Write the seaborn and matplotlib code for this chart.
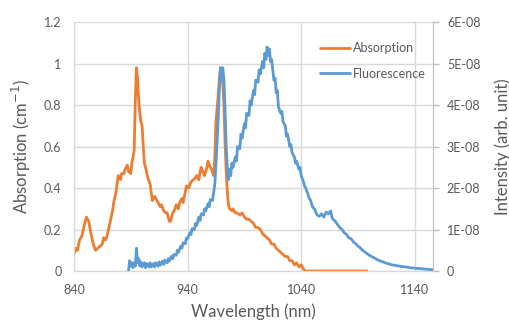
import matplotlib
matplotlib.use("Agg")
import numpy as np
import pandas as pd
import matplotlib.pyplot as plt
import seaborn as sns

sns.set_style("white")
plt.rcParams['font.family'] = ['Lato', 'DejaVu Sans']

# absorption spectrum (cm-1)
abs_wl = [840, 842, 843, 845, 847, 849, 851, 852, 853, 855, 857, 859, 861, 863, 865, 866, 868, 870,
          872, 874, 875, 877, 878, 879, 881, 882, 884, 885, 887, 888, 890, 891, 893, 894, 895, 896,
          897, 898, 899, 900, 901, 902, 903, 905, 907, 908, 909, 911, 912, 914, 916, 917, 919, 921,
          922, 924, 925, 927, 929, 930, 932, 933, 935, 936, 938, 939, 941, 943, 945, 947, 948, 950,
          951, 952, 954, 955, 957, 958, 960, 961, 963, 964, 965, 967, 968, 969, 970, 971, 972, 973,
          974, 975, 976, 977, 979, 980, 982, 984, 986, 988, 990, 992, 994, 996, 998, 1000, 1002,
          1004, 1006, 1008, 1010, 1012, 1014, 1016, 1018, 1020, 1022, 1024, 1026, 1028, 1030, 1032,
          1034, 1036, 1038, 1040, 1042, 1044, 1050, 1070, 1098]
abs_val = [0.08, 0.11, 0.10, 0.15, 0.17, 0.22, 0.26, 0.25, 0.24, 0.18, 0.13, 0.10, 0.11, 0.12, 0.13,
           0.16, 0.15, 0.19, 0.24, 0.29, 0.33, 0.38, 0.42, 0.46, 0.44, 0.47, 0.47, 0.49, 0.51, 0.48,
           0.47, 0.52, 0.58, 0.82, 0.98, 0.93, 0.82, 0.76, 0.72, 0.70, 0.60, 0.52, 0.50, 0.45, 0.42,
           0.38, 0.34, 0.36, 0.35, 0.33, 0.31, 0.32, 0.29, 0.28, 0.28, 0.24, 0.24, 0.28, 0.30, 0.32,
           0.30, 0.33, 0.35, 0.33, 0.38, 0.41, 0.40, 0.43, 0.44, 0.45, 0.46, 0.44, 0.48, 0.50, 0.47,
           0.46, 0.50, 0.53, 0.50, 0.49, 0.46, 0.55, 0.72, 0.85, 0.93, 0.98, 0.97, 0.90, 0.80, 0.62,
           0.48, 0.38, 0.32, 0.30, 0.29, 0.30, 0.28, 0.28, 0.27, 0.28, 0.26, 0.25, 0.25, 0.24, 0.23,
           0.21, 0.21, 0.20, 0.18, 0.17, 0.16, 0.15, 0.13, 0.13, 0.11, 0.10, 0.09, 0.08, 0.07, 0.07,
           0.05, 0.05, 0.03, 0.04, 0.02, 0.03, 0.01, 0.0, 0.0, 0.0, 0.0]

# fluorescence spectrum (units of 1E-08)
fl_wl = [888, 889, 890, 891, 892, 893, 894, 895, 896, 897, 898, 899, 900, 902, 903, 904, 906, 907,
         908, 910, 911, 912, 914, 915, 916, 918, 919, 920, 922, 923, 924, 926, 927, 928, 930, 931,
         932, 934, 935, 936, 938, 939, 940, 942, 943, 944, 946, 947, 948, 950, 951, 952, 954, 955,
         956, 958, 959, 960, 962, 963, 964, 965, 966, 967, 968, 969, 970, 971, 972, 973, 974, 975,
         976, 977, 978, 979, 980, 982, 983, 984, 986, 987, 988, 990, 991, 992, 994, 995, 996, 998,
         999, 1000, 1002, 1003, 1004, 1006, 1007, 1008, 1009, 1010, 1011, 1012, 1013, 1014, 1016,
         1017, 1018, 1019, 1020, 1022, 1023, 1024, 1026, 1027, 1028, 1030, 1031, 1032, 1034, 1035,
         1036, 1038, 1039, 1040, 1042, 1043, 1044, 1046, 1047, 1048, 1050, 1052, 1054, 1056, 1058,
         1060, 1062, 1064, 1066, 1067, 1068, 1070, 1072, 1074, 1076, 1078, 1080, 1082, 1084, 1086,
         1088, 1090, 1092, 1094, 1096, 1098, 1100, 1104, 1108, 1112, 1116, 1120, 1124, 1128, 1132,
         1136, 1140, 1144, 1148, 1152, 1156]
fl_val = [0.0, 0.25, 0.12, 0.2, 0.08, 0.2, 0.12, 0.55, 0.2, 0.3, 0.12, 0.22, 0.1, 0.2, 0.08, 0.18,
          0.1, 0.2, 0.1, 0.18, 0.1, 0.2, 0.12, 0.22, 0.14, 0.24, 0.16, 0.26, 0.2, 0.3, 0.24, 0.36,
          0.3, 0.4, 0.38, 0.5, 0.45, 0.6, 0.55, 0.68, 0.66, 0.8, 0.78, 0.92, 0.88, 1.02, 1.0, 1.15,
          1.1, 1.3, 1.22, 1.38, 1.35, 1.5, 1.45, 1.62, 1.55, 1.72, 1.7, 1.9, 2.1, 2.6, 3.1, 3.7, 4.4,
          4.9, 4.6, 4.9, 4.6, 3.9, 3.0, 2.5, 2.2, 2.45, 2.3, 2.6, 2.5, 2.75, 2.65, 3.0, 2.95, 3.3,
          3.2, 3.55, 3.45, 3.8, 3.75, 4.1, 4.0, 4.35, 4.25, 4.6, 4.55, 4.85, 4.75, 5.05, 4.9, 5.25,
          5.1, 5.4, 5.2, 5.35, 5.05, 5.1, 4.6, 4.65, 4.3, 4.35, 3.95, 3.8, 3.85, 3.6, 3.5, 3.25, 3.3,
          3.0, 3.05, 2.85, 2.75, 2.6, 2.65, 2.45, 2.5, 2.3, 2.15, 2.05, 2.0, 1.85, 1.75, 1.72, 1.55,
          1.48, 1.35, 1.32, 1.38, 1.3, 1.42, 1.38, 1.45, 1.3, 1.25, 1.2, 1.12, 1.05, 1.0, 0.92, 0.88,
          0.8, 0.78, 0.7, 0.66, 0.6, 0.56, 0.5, 0.46, 0.42, 0.38, 0.32, 0.26, 0.22, 0.18, 0.15, 0.13,
          0.11, 0.1, 0.08, 0.07, 0.06, 0.05, 0.04, 0.03]

x_ticks = [840, 940, 1040, 1140]
left_ticks = [0, 0.2, 0.4, 0.6, 0.8, 1.0, 1.2]
left_labels = ["0", "0.2", "0.4", "0.6", "0.8", "1", "1.2"]
right_ticks = [0, 1e-8, 2e-8, 3e-8, 4e-8, 5e-8, 6e-8]
right_labels = ["0", "1E-08", "2E-08", "3E-08", "4E-08", "5E-08", "6E-08"]

orange = "#ED7D31"
blue = "#5B9BD5"
txt = "#595959"
grid = "#D9D9D9"

df_abs = pd.DataFrame({"wl": abs_wl, "val": abs_val})
df_fl = pd.DataFrame({"wl": fl_wl, "val": np.array(fl_val) * 1e-8})

fig = plt.figure(figsize=(5.1, 3.25), dpi=100)
ax = fig.add_axes([0.145, 0.166, 0.704, 0.766])
ax2 = ax.twinx()

sns.lineplot(data=df_abs, x="wl", y="val", ax=ax, color=orange, linewidth=2.0,
             estimator=None, sort=False, label="Absorption", legend=False)
sns.lineplot(data=df_fl, x="wl", y="val", ax=ax2, color=blue, linewidth=2.0,
             estimator=None, sort=False, label="Fluorescence", legend=False)

ax.set_xlim(840, 1156)
ax.set_ylim(0, 1.2)
ax2.set_ylim(0, 6e-8)
ax.set_xticks(x_ticks)
ax.set_yticks(left_ticks)
ax.set_yticklabels(left_labels)
ax2.set_yticks(right_ticks)
ax2.set_yticklabels(right_labels)

ax.grid(True, color=grid, linewidth=1.0)
ax.set_axisbelow(True)
ax2.grid(False)

for a in (ax, ax2):
    for s in a.spines.values():
        s.set_color(grid)
    a.spines["top"].set_visible(False)
ax2.spines["right"].set_color("#BFBFBF")

ax.tick_params(axis="x", length=0, pad=9, labelsize=9, labelcolor=txt)
ax.tick_params(axis="y", length=0, pad=9, labelsize=9, labelcolor=txt)
ax2.tick_params(axis="y", length=4, width=1, color="#BFBFBF", pad=6, labelsize=9, labelcolor=txt)

ax.set_xlabel("Wavelength (nm)", fontsize=12, color=txt, labelpad=6)
ax.set_ylabel("Absorption (cm$^{-1}$)", fontsize=12, color=txt, labelpad=8)
ax2.set_ylabel("Intensity (arb. unit)", fontsize=12, color=txt, labelpad=10)

h1, l1 = ax.get_legend_handles_labels()
h2, l2 = ax2.get_legend_handles_labels()
ax2.legend(h1 + h2, l1 + l2, loc="upper left", bbox_to_anchor=(0.655, 0.965), frameon=False,
           fontsize=9, handlelength=2.4, labelspacing=1.1, handletextpad=0.2,
           labelcolor=txt)

fig.savefig("out.png", dpi=100)
